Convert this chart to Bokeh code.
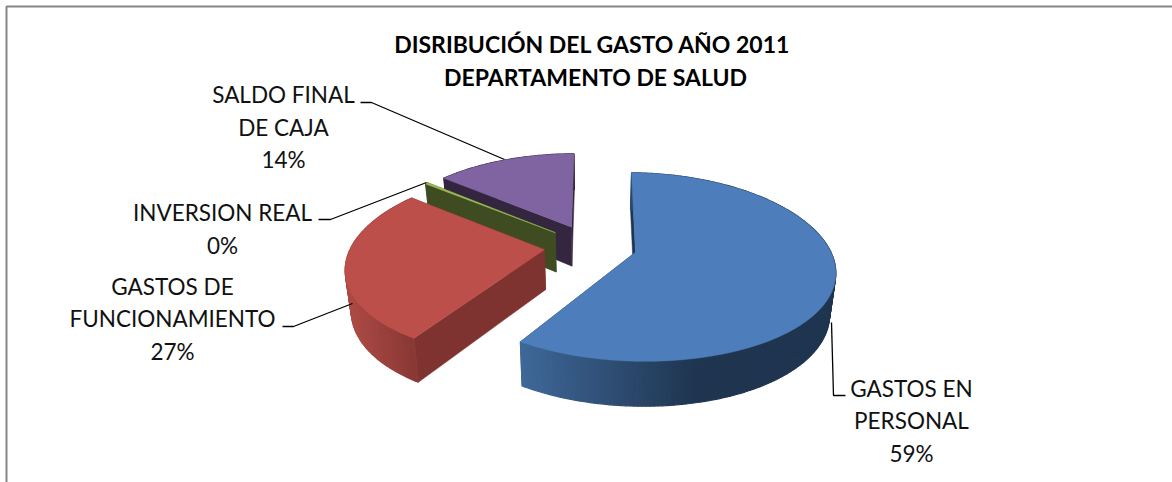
import numpy as np
from bokeh.plotting import figure
from bokeh.core.properties import value
from bokeh.embed import file_html
from bokeh.resources import INLINE

# --- data
categories = ["GASTOS EN PERSONAL", "GASTOS DE FUNCIONAMIENTO", "INVERSION REAL", "SALDO FINAL DE CAJA"]
shares = [58.7, 26.7, 0.3, 14.0]
percent_labels = ["59%", "27%", "0%", "14%"]
title_lines = ["DISRIBUCIÓN DEL GASTO AÑO 2011", "DEPARTAMENTO DE SALUD"]

top_colors = ["#4D7EBB", "#BD4F4B", "#9BBB59", "#8064A2"]
wall_colors = ["#1F3550", "#7F3331", "#3F4C22", "#35263F"]
rim_light = ["#40699A", "#AC4A45", "#3F4C22", "#35263F"]
rim_dark = ["#1F3550", "#8A3936", "#3F4C22", "#35263F"]

# --- page-pixel helpers
CX, CY, A, B, K = 590.0, 245.5, 197.0, 90.0, 0.155
EXPLODE = 0.24
FIRST_ANGLE = 1.0


def project(u, v):
    dx = 1.02 + 0.18 * v
    dy = 1 + K * v
    return CX + A * u / dx, CY - B * v / dy


def drop(x, y):
    return CX + 0.975 * (x - CX), y + 39 + 0.044 * (y - 226)


def slice_geometry(start, end):
    mid = np.radians((start + end) / 2)
    ou, ov = EXPLODE * np.sin(mid), EXPLODE * np.cos(mid)
    th = np.radians(np.linspace(start, end, max(3, int(end - start) + 2)))
    ax, ay = project(ou, ov)
    rx, ry = project(ou + np.sin(th), ov + np.cos(th))
    return (float(ax), float(ay)), rx, ry


p = figure(width=1172, height=482, x_range=(0, 1172), y_range=(482, 0),
           toolbar_location=None, output_backend="svg", min_border=0,
           outline_line_color=None, background_fill_color="white")
p.xaxis.visible = False
p.yaxis.visible = False
p.grid.visible = False

# frame of the chart area
p.line([1172, 6, 6], [6, 6, 482], line_color="#868686", line_width=2)

angles = FIRST_ANGLE + np.concatenate([[0], np.cumsum(shares) * 3.6])
for i in [3, 2, 1, 0]:
    start, end = angles[i], angles[i + 1]
    (ax, ay), rx, ry = slice_geometry(start, end)
    bax, bay = drop(ax, ay)
    brx, bry = drop(rx, ry)
    # straight walls
    for ex, ey, bex, bey in [(rx[0], ry[0], brx[0], bry[0]), (rx[-1], ry[-1], brx[-1], bry[-1])]:
        p.patch([ax, ex, bex, bax], [ay, ey, bey, bay], fill_color=wall_colors[i],
                line_color=wall_colors[i], line_width=0.5)
    # outer rim, shaded by horizontal position
    xs, ys, cols = [], [], []
    c0 = np.array([int(rim_light[i][j:j + 2], 16) for j in (1, 3, 5)], float)
    c1 = np.array([int(rim_dark[i][j:j + 2], 16) for j in (1, 3, 5)], float)
    lo, hi = (520, 700) if i == 0 else (350, 412)
    for j in range(len(rx) - 1):
        xs.append([rx[j], rx[j + 1], brx[j + 1], brx[j]])
        ys.append([ry[j], ry[j + 1], bry[j + 1], bry[j]])
        t = np.clip((rx[j] - lo) / (hi - lo), 0, 1)
        c = c0 + (c1 - c0) * t
        cols.append("#%02x%02x%02x" % tuple(int(q) for q in c))
    p.patches(xs, ys, fill_color=cols, line_color=cols, line_width=1.2)
    # top face
    p.patch([ax, *rx], [ay, *ry], fill_color=top_colors[i], line_color=top_colors[i], line_width=0.5)

# leader lines
leaders_x = [[360, 371, 504], [318, 330, 426], [282, 293, 352], [831, 833, 845]]
leaders_y = [[102, 102, 159], [219, 219, 182], [326, 326, 303], [322, 395, 395]]
p.multi_line(leaders_x, leaders_y, line_color="black", line_width=1.3)

# data labels
label_text = ["SALDO FINAL", "DE CAJA", percent_labels[3],
              categories[2], percent_labels[2],
              "GASTOS DE", "FUNCIONAMIENTO", percent_labels[1],
              "GASTOS EN", "PERSONAL", percent_labels[0]]
label_x = [283, 283, 283, 222, 222, 172, 172, 172, 911, 911, 911]
label_y = [94, 127, 159, 212, 245, 286, 318, 351, 388, 420, 453]
p.text(label_x, label_y, text=label_text, text_font=value("Lato"), text_font_size="22.5px",
       text_align="center", text_baseline="middle", text_color="#111111")

p.text([592, 595], [43, 76], text=title_lines, text_font=value("Lato"), text_font_size="23px",
       text_font_style="bold", text_align="center", text_baseline="middle", text_color="black")

open("out.html", "w").write(file_html(p, INLINE))
